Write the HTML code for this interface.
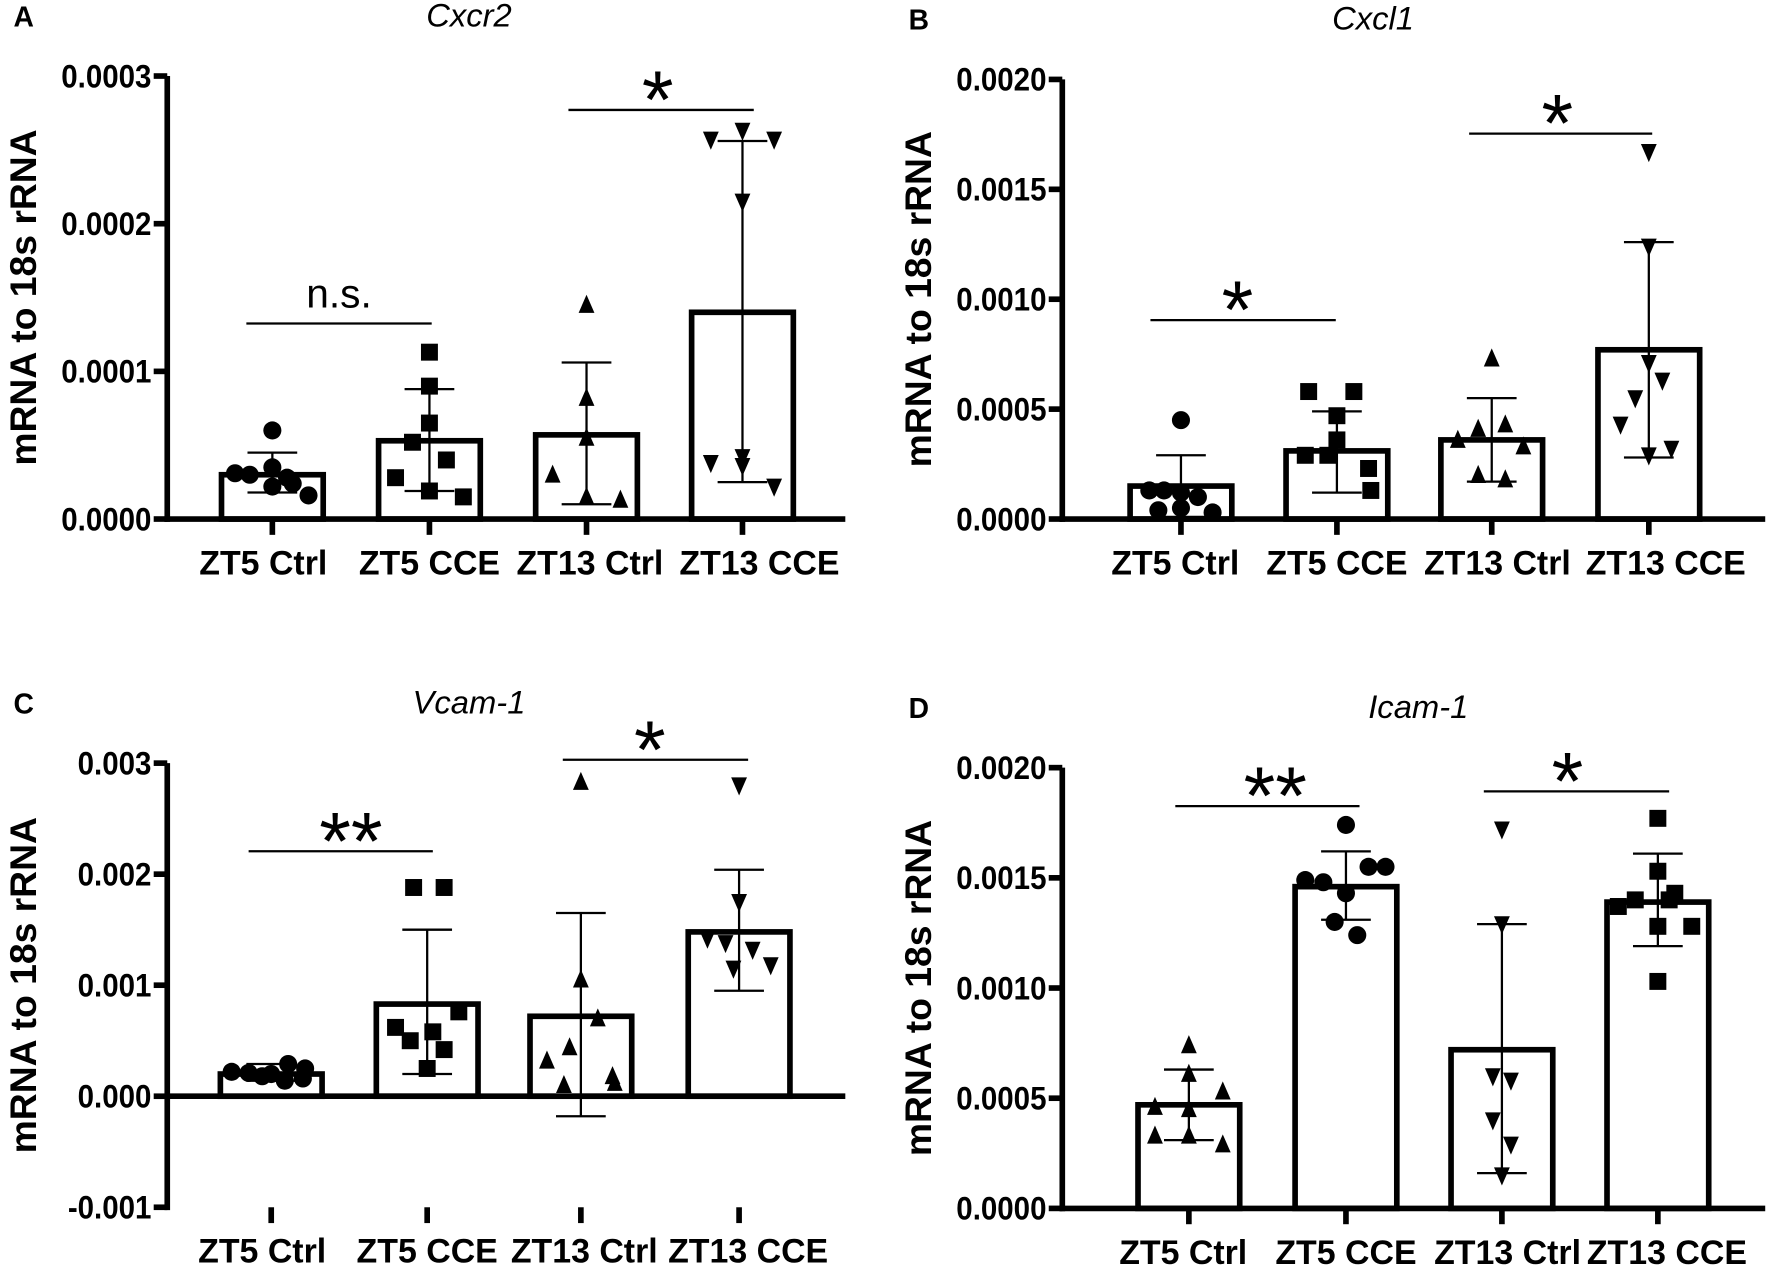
<!DOCTYPE html>
<html><head><meta charset="utf-8"><style>
html,body{margin:0;padding:0;background:#fff}
svg{display:block}
text{font-family:"Liberation Sans",Arial,sans-serif}
</style></head><body>
<svg id="fig" width="1772" height="1272" viewBox="0 0 1568 1125" xmlns="http://www.w3.org/2000/svg"></svg>
<script>
const categories = ["ZT5 Ctrl","ZT5 CCE","ZT13 Ctrl","ZT13 CCE"];
// Panel A Cxcr2
const aMeans = [0.00003,0.000053,0.000057,0.00014];
const aErrLo = [0.000018,0.000019,0.00001,0.000025];
const aErrHi = [0.000045,0.000088,0.000106,0.000256];
const aPts = [
 [[0.00006,0],[0.000035,0],[0.000031,-33],[0.00003,-20],[0.000028,13],[0.000022,0],[0.000024,18],[0.000016,32]],
 [[0.000113,0],[0.00009,0],[0.000065,0],[0.000052,-15],[0.00004,15],[0.000028,-30],[0.000019,0],[0.000015,30]],
 [[0.000145,0],[0.000082,0],[0.000055,0],[0.00003,-30],[0.000015,0],[0.000013,30]],
 [[0.000263,0],[0.000257,-28],[0.000257,28],[0.000215,0],[0.000042,0],[0.000036,0],[0.000038,-28],[0.000022,28]]];
const aTicks = [0,0.0001,0.0002,0.0003];
const aTickLabels = ["0.0000","0.0001","0.0002","0.0003"];
// Panel B Cxcl1
const bMeans = [0.00015,0.00031,0.00036,0.00077];
const bErrLo = [0.00001,0.00012,0.00017,0.00028];
const bErrHi = [0.00029,0.00049,0.00055,0.00126];
const bPts = [
 [[0.00045,0],[0.00013,-28],[0.00013,-15],[0.00012,0],[0.0001,15],[0.00004,-20],[0.00003,28],[0.00005,0]],
 [[0.00058,-25],[0.00058,15],[0.00047,0],[0.00036,0],[0.00029,-28],[0.00029,-8],[0.00023,28],[0.00013,30]],
 [[0.00073,0],[0.00036,-30],[0.00041,-12],[0.00043,12],[0.00033,28],[0.00018,12],[0.0002,-12]],
 [[0.00167,0],[0.00124,0],[0.00071,0],[0.00063,12],[0.00055,-12],[0.00043,-25],[0.00032,20],[0.00029,0]]];
const bTicks = [0,0.0005,0.001,0.0015,0.002];
const bTickLabels = ["0.0000","0.0005","0.0010","0.0015","0.0020"];
// Panel C Vcam-1
const cMeans = [0.0002,0.00083,0.00072,0.00148];
const cErrLo = [0.00014,0.0002,-0.00018,0.00095];
const cErrHi = [0.00029,0.0015,0.00165,0.00204];
const cPts = [
 [[0.00029,15],[0.00025,30],[0.00022,-35],[0.00021,-20],[0.0002,0],[0.00018,-8],[0.00016,28],[0.00014,12]],
 [[0.00188,-12],[0.00188,15],[0.00062,-28],[0.00058,5],[0.00076,28],[0.0005,-15],[0.00042,15],[0.00025,0]],
 [[0.00283,0],[0.00105,0],[0.0007,15],[0.00044,-10],[0.00032,-30],[0.00018,28],[0.00012,30],[0.0001,-15]],
 [[0.0028,0],[0.00175,0],[0.00142,-28],[0.00138,-12],[0.00132,12],[0.00118,28],[0.00115,-5]]];
const cTicks = [-0.001,0,0.001,0.002,0.003];
const cTickLabels = ["-0.001","0.000","0.001","0.002","0.003"];
// Panel D Icam-1
const dMeans = [0.00047,0.00146,0.00072,0.00139];
const dErrLo = [0.00031,0.00131,0.00016,0.00119];
const dErrHi = [0.00063,0.00162,0.00129,0.00161];
const dPts = [
 [[0.00074,0],[0.00061,0],[0.00053,30],[0.00046,-30],[0.00045,0],[0.00033,-30],[0.00033,0],[0.00029,30]],
 [[0.00174,0],[0.00155,20],[0.00155,35],[0.00149,-36],[0.00148,-20],[0.00143,0],[0.0013,-10],[0.00124,10]],
 [[0.00172,0],[0.00129,0],[0.0006,-8],[0.00058,8],[0.0004,-8],[0.00029,8],[0.00015,0]],
 [[0.00177,0],[0.00153,0],[0.0014,-20],[0.0014,10],[0.00137,-35],[0.00143,15],[0.00128,0],[0.00128,30],[0.00103,0]]];
const dTicks = [0,0.0005,0.001,0.0015,0.002];
const dTickLabels = ["0.0000","0.0005","0.0010","0.0015","0.0020"];

const NS="http://www.w3.org/2000/svg";
const svg=document.getElementById('fig');
function mk(tag,attrs,parent,text){const e=document.createElementNS(NS,tag);for(const k in attrs)e.setAttribute(k,attrs[k]);if(text!==undefined)e.textContent=text;(parent||svg).appendChild(e);return e;}

function panel(cfg){
  const g=mk('g',{});
  
  
  const y=v=>cfg.y0+(v-cfg.vmin)/(cfg.vmax-cfg.vmin)*(cfg.y1-cfg.y0);
  const x=i=>cfg.cx[i];
  let t=mk('text',{x:cfg.ax-136,y:cfg.y1-44,'font-size':25,'font-weight':'bold'},g,cfg.letter);
  
  t=mk('text',{x:cfg.titleX,y:cfg.y1-44,'font-size':29,'font-style':'italic','text-anchor':'middle'},g,cfg.title);
  
  t=mk('text',{transform:`translate(${cfg.ax-116},${(cfg.y0+cfg.y1)/2}) rotate(-90)`,'font-size':33,'font-weight':'bold','text-anchor':'middle'},g,'mRNA to 18s rRNA');
  
  cfg.means.forEach((m,i)=>{
    const r=mk('rect',{x:x(i)-45,y:y(m),width:90,height:y(0)-y(m),fill:'#fff',stroke:'#000','stroke-width':5},g);
    
    
  });
  let l=mk('line',{x1:cfg.ax,y1:cfg.y1,x2:cfg.ax,y2:cfg.y0+2.5,stroke:'#000','stroke-width':5},g);
  
  l=mk('line',{x1:cfg.ax-2.5,y1:y(0),x2:cfg.axEnd,y2:y(0),stroke:'#000','stroke-width':5},g);
  
  cfg.ticks.forEach((v,i)=>{
    const tk=mk('line',{x1:cfg.ax-12,y1:y(v),x2:cfg.ax,y2:y(v),stroke:'#000','stroke-width':5},g);
    
    const tl=mk('text',{x:cfg.ax-14,y:y(v)+10,'font-size':29,'font-weight':'bold','text-anchor':'end',transform:`translate(${(cfg.ax-14)*0.1},0) scale(0.9,1)`},g,cfg.tickLabels[i]);
    
  });
  const by=cfg.y0;
  categories.forEach((c,i)=>{
    const tk=mk('line',{x1:x(i),y1:by,x2:x(i),y2:by+14,stroke:'#000','stroke-width':5},g);
    
    const tl=mk('text',{x:x(i)+cfg.lblOff[i],y:by+49,'font-size':30,'font-weight':'bold','text-anchor':'middle'},g,c);
    
  });
  cfg.means.forEach((m,i)=>{
    const e=mk('path',{d:`M${x(i)},${y(cfg.lo[i])}V${y(cfg.hi[i])}M${x(i)-22},${y(cfg.lo[i])}h44M${x(i)-22},${y(cfg.hi[i])}h44`,stroke:'#000','stroke-width':2,fill:'none'},g);
    
  });
  cfg.pts.forEach((arr,i)=>{
    const sh=cfg.shapes[i];
    arr.forEach(p=>{
      const px=x(i)+p[1], py=y(p[0]); let e;
      if(sh==='c') e=mk('circle',{cx:px,cy:py,r:8},g);
      else if(sh==='s') e=mk('rect',{x:px-7.5,y:py-7.5,width:15,height:15},g);
      else if(sh==='u') e=mk('polygon',{points:`${px},${py-9} ${px-7},${py+7} ${px+7},${py+7}`},g);
      else e=mk('polygon',{points:`${px},${py+9} ${px-7},${py-7} ${px+7},${py-7}`},g);
      
    });
  });
  cfg.sig.forEach(s=>{
    const sl=mk('line',{x1:s[0],y1:s[2],x2:s[1],y2:s[2],stroke:'#000','stroke-width':2},g);
    
    const ns=s[3]==='n.s.';
    const st=mk('text',{x:(s[0]+s[1])/2+s[5],y:s[2]+s[4]+(ns?0:18),'font-size':ns?36:72,'text-anchor':'middle'},g,s[3]);
    
  });
}
panel({name:'panel-a-cxcr2',letter:'A',title:'Cxcr2',titleX:415,ax:148,axEnd:748,y0:459,y1:67,vmin:0,vmax:0.0003,
 cx:[241,380,519,657],lblOff:[-8,0,3,15],means:aMeans,lo:aErrLo,hi:aErrHi,pts:aPts,ticks:aTicks,tickLabels:aTickLabels,
 shapes:['c','s','u','d'],sig:[[218,382,286,'n.s.',-14,0],[503,667,97,'*',-2,-3]]});
panel({name:'panel-b-cxcl1',letter:'B',title:'Cxcl1',titleX:1215,ax:940,axEnd:1562,y0:459,y1:70,vmin:0,vmax:0.002,
 cx:[1045,1183,1320,1459],lblOff:[-5,0,5,15],means:bMeans,lo:bErrLo,hi:bErrHi,pts:bPts,ticks:bTicks,tickLabels:bTickLabels,
 shapes:['c','s','u','d'],sig:[[1018,1182,283,'*',-2,-5],[1300,1462,118,'*',-2,-3]]});
panel({name:'panel-c-vcam1',letter:'C',title:'Vcam-1',titleX:415,ax:148,axEnd:748,y0:1068,y1:675,vmin:-0.001,vmax:0.003,
 cx:[240,378,514,654],lblOff:[-8,0,3,8],means:cMeans,lo:cErrLo,hi:cErrHi,pts:cPts,ticks:cTicks,tickLabels:cTickLabels,
 shapes:['c','s','u','d'],sig:[[220,383,753,'**',-2,9],[498,662,672,'*',-2,-5]]});
panel({name:'panel-d-icam1',letter:'D',title:'Icam-1',titleX:1255,ax:940,axEnd:1562,y0:1069,y1:679,vmin:0,vmax:0.002,
 cx:[1052,1191,1329,1467],lblOff:[-5,0,5,8],means:dMeans,lo:dErrLo,hi:dErrHi,pts:dPts,ticks:dTicks,tickLabels:dTickLabels,
 shapes:['u','c','d','s'],sig:[[1040,1203,713,'**',-2,7],[1313,1477,700,'*',-2,-8]]});
</script>
</body></html>
